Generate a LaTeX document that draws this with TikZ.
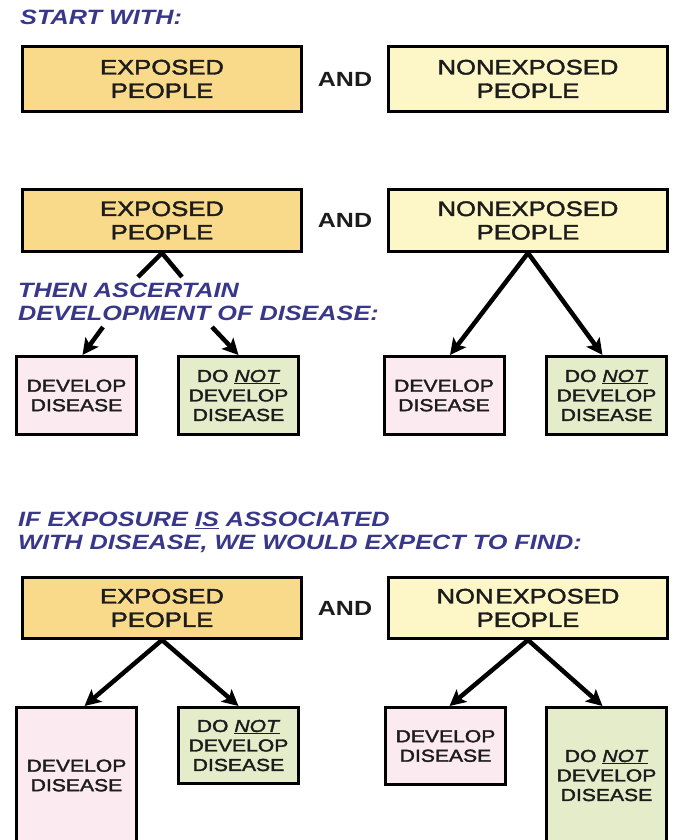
\documentclass[tikz,border=0pt]{standalone}
\usepackage{fontspec}
\setmainfont{Liberation Sans}[FakeStretch=1.22]
\newfontfamily\boxfont{Liberation Sans}[FakeStretch=1.22, FakeBold=2]
\usetikzlibrary{arrows.meta}

\definecolor{expfill}{RGB}{249,217,138}
\definecolor{nonfill}{RGB}{253,246,198}
\definecolor{devfill}{RGB}{251,234,240}
\definecolor{notfill}{RGB}{229,236,202}
\definecolor{headblue}{RGB}{56,55,138}
\definecolor{ink}{RGB}{28,28,28}

\begin{document}
\begin{tikzpicture}[x=1pt,y=-1pt,
  bigbox/.style={draw=black, line width=3pt, minimum width=279pt, inner sep=0pt,
    align=center, text=ink, font=\boxfont\fontsize{21}{23.5}\selectfont},
  smallbox/.style={draw=black, line width=3pt, minimum width=120pt, inner sep=0pt,
    align=center, text=ink, font=\boxfont\fontsize{17.3}{19.5}\selectfont},
  andtxt/.style={text=ink, inner sep=0pt, font=\bfseries\fontsize{20.5}{23}\selectfont},
  heading/.style={anchor=north west, inner sep=0pt, align=left, text=headblue,
    font=\bfseries\itshape\fontsize{20.7}{23}\selectfont},
  stub/.style={line width=4.5pt, draw=black},
  arr/.style={line width=4.5pt, draw=black, -{Stealth[length=16pt,width=16pt,inset=3.5pt]}}
]
\useasboundingbox (0,0) rectangle (692,840);
\clip (0,0) rectangle (692,840);

% --- first panel: the two starting groups
\node[heading] (start) at (20,10) {START WITH:};
\node[bigbox, fill=expfill, minimum height=65pt] (e1) at (162,79) {EXPOSED\\PEOPLE};
\node[andtxt] (and1) at (345,79) {AND};
\node[bigbox, fill=nonfill, minimum height=65pt] (n1) at (528,79) {NONEXPOSED\\PEOPLE};

% --- second panel: follow-up of both groups
\node[bigbox, fill=expfill, minimum height=62pt] (e2) at (162,220.5) {EXPOSED\\PEOPLE};
\node[andtxt] (and2) at (345,220.5) {AND};
\node[bigbox, fill=nonfill, minimum height=62pt] (n2) at (528,220.5) {NONEXPOSED\\PEOPLE};

\node[heading] (then) at (18,283) {THEN ASCERTAIN\\DEVELOPMENT OF DISEASE:};

\node[smallbox, fill=devfill, minimum height=78pt] (p2l) at (76.5,395.5) {DEVELOP\\DISEASE};
\node[smallbox, fill=notfill, minimum height=78pt] (g2l) at (238.5,395.5) {DO \underline{\textit{NOT}}\\DEVELOP\\DISEASE};
\node[smallbox, fill=devfill, minimum height=78pt] (p2r) at (444,395.5) {DEVELOP\\DISEASE};
\node[smallbox, fill=notfill, minimum height=78pt] (g2r) at (606.5,395.5) {DO \underline{\textit{NOT}}\\DEVELOP\\DISEASE};

% branches of the exposed group, interrupted by the caption
\coordinate (s1) at (138,277);
\coordinate (s2) at (182,277);
\coordinate (t1) at (103,327);
\coordinate (t2) at (212,327);
\draw[stub] (e2.south) -- (s1);
\draw[stub] (e2.south) -- (s2);
\draw[arr] (t1) -- ([xshift=6pt]p2l.north);
\draw[arr] (t2) -- (g2l.north);

\draw[arr] (n2.south) -- ([xshift=6pt]p2r.north);
\draw[arr] (n2.south) -- ([xshift=-4pt]g2r.north);

% --- third panel: the expected result under an association
\node[heading] (ifexp) at (18,512) {IF EXPOSURE \underline{IS} ASSOCIATED\\WITH DISEASE, WE WOULD EXPECT TO FIND:};

\node[bigbox, fill=expfill, minimum height=61pt] (e3) at (162,608) {EXPOSED\\PEOPLE};
\node[andtxt] (and3) at (345,608) {AND};
\node[bigbox, fill=nonfill, minimum height=61pt] (n3) at (528,608) {NON\hspace{2pt}EXPOSED\\PEOPLE};

\node[smallbox, fill=devfill, minimum height=136pt] (p3l) at (76.5,775.5) {DEVELOP\\DISEASE};
\node[smallbox, fill=notfill, minimum height=76pt] (g3l) at (238.5,745.5) {DO \underline{\textit{NOT}}\\DEVELOP\\DISEASE};
\node[smallbox, fill=devfill, minimum height=77pt] (p3r) at (445.5,746) {DEVELOP\\DISEASE};
\node[smallbox, fill=notfill, minimum height=136pt] (g3r) at (606.5,775.5) {DO \underline{\textit{NOT}}\\DEVELOP\\DISEASE};

\draw[arr] (e3.south) -- ([xshift=8pt]p3l.north);
\draw[arr] (e3.south) -- (g3l.north);
\draw[arr] (n3.south) -- ([xshift=4pt]p3r.north);
\draw[arr] (n3.south) -- ([xshift=-4pt]g3r.north);
\end{tikzpicture}
\end{document}
